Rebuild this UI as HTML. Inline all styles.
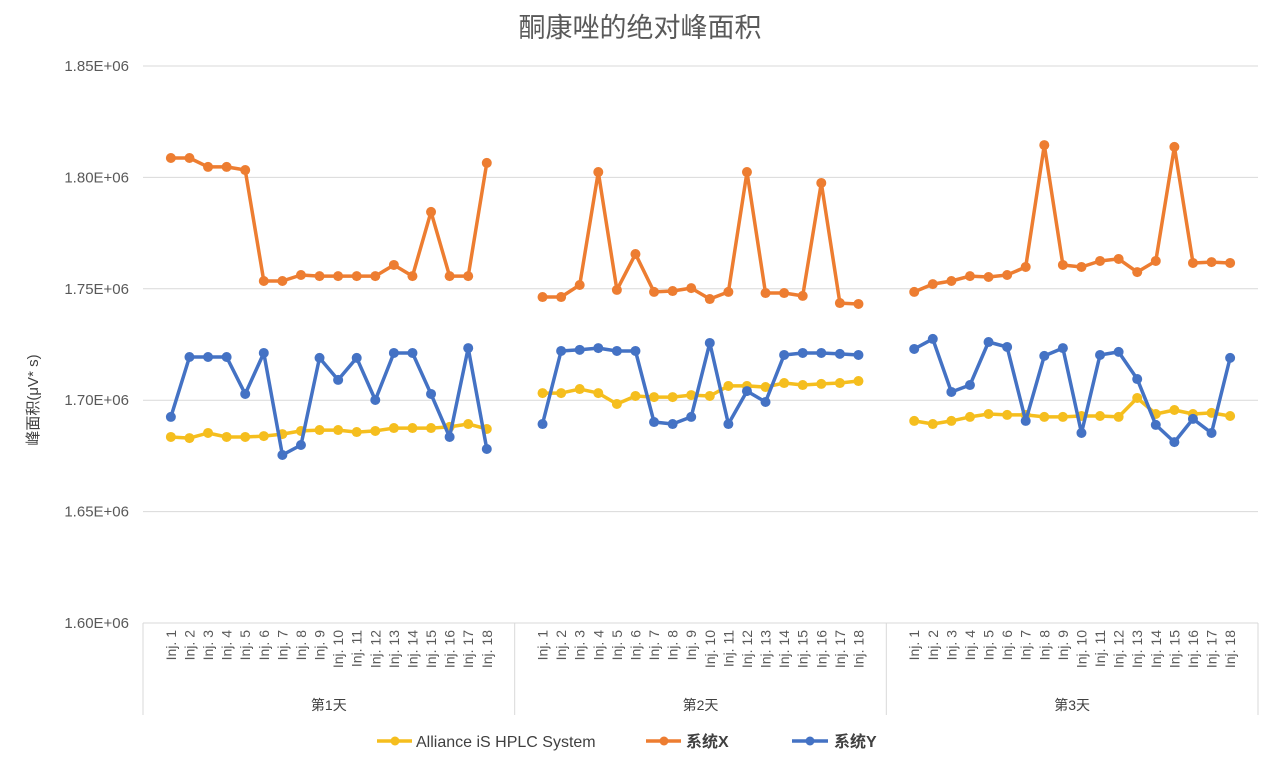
<!DOCTYPE html>
<html><head><meta charset="utf-8"><style>
body{margin:0;background:#fff;font-family:"Liberation Sans","Noto Sans CJK SC",sans-serif;}
svg text{font-family:"Liberation Sans","Noto Sans CJK SC",sans-serif;}
</style></head><body>
<svg id="chart" width="1280" height="778" xmlns="http://www.w3.org/2000/svg">
<text x="640" y="37" text-anchor="middle" font-size="27" fill="#595959">酮康唑的绝对峰面积</text>
<text transform="translate(38,400) rotate(-90)" text-anchor="middle" font-size="15" fill="#404040">峰面积(μV* s)</text>
<g id="grid"></g><g id="xaxis"></g><g id="series"></g>
<g>
<g><line x1="377" y1="741" x2="412" y2="741" stroke="#F5BE1E" stroke-width="3.5"/><circle cx="395" cy="741" r="4.5" fill="#F5BE1E"/><text x="416" y="747" font-size="16" fill="#404040">Alliance iS HPLC System</text></g>
<g><line x1="646" y1="741" x2="681" y2="741" stroke="#ED7D31" stroke-width="3.5"/><circle cx="664" cy="741" r="4.5" fill="#ED7D31"/><text x="686" y="747" font-size="16" font-weight="bold" fill="#404040">系统X</text></g>
<g><line x1="792" y1="741" x2="828" y2="741" stroke="#4472C4" stroke-width="3.5"/><circle cx="810" cy="741" r="4.5" fill="#4472C4"/><text x="834" y="747" font-size="16" font-weight="bold" fill="#404040">系统Y</text></g>
</g>
</svg>
<script>
const days = ["第1天","第2天","第3天"];
const injections = ["Inj. 1","Inj. 2","Inj. 3","Inj. 4","Inj. 5","Inj. 6","Inj. 7","Inj. 8","Inj. 9","Inj. 10","Inj. 11","Inj. 12","Inj. 13","Inj. 14","Inj. 15","Inj. 16","Inj. 17","Inj. 18"];
const yTicks = [1.60,1.65,1.70,1.75,1.80,1.85];
const yTickLabels = ["1.60E+06","1.65E+06","1.70E+06","1.75E+06","1.80E+06","1.85E+06"];
const allianceValues = [
[1.6835,1.6830,1.6853,1.6835,1.6835,1.6839,1.6848,1.6862,1.6866,1.6866,1.6857,1.6862,1.6875,1.6875,1.6875,1.6880,1.6893,1.6871],
[1.7032,1.7032,1.7050,1.7032,1.6983,1.7019,1.7014,1.7014,1.7023,1.7019,1.7064,1.7064,1.7059,1.7077,1.7068,1.7073,1.7077,1.7086],
[1.6907,1.6893,1.6907,1.6925,1.6938,1.6934,1.6934,1.6925,1.6925,1.6929,1.6929,1.6925,1.7010,1.6938,1.6956,1.6938,1.6943,1.6929]];
const systemXValues = [
[1.8087,1.8087,1.8047,1.8047,1.8033,1.7535,1.7535,1.7562,1.7557,1.7557,1.7557,1.7557,1.7607,1.7557,1.7845,1.7557,1.7557,1.8065],
[1.7463,1.7463,1.7517,1.8024,1.7495,1.7656,1.7486,1.7490,1.7503,1.7454,1.7486,1.8024,1.7481,1.7481,1.7468,1.7975,1.7436,1.7432],
[1.7486,1.7521,1.7535,1.7557,1.7553,1.7562,1.7598,1.8145,1.7607,1.7598,1.7625,1.7634,1.7575,1.7625,1.8137,1.7616,1.7620,1.7616]];
const systemYValues = [
[1.6925,1.7194,1.7194,1.7194,1.7028,1.7212,1.6754,1.6799,1.7190,1.7091,1.7190,1.7001,1.7212,1.7212,1.7028,1.6835,1.7234,1.6781],
[1.6893,1.7221,1.7226,1.7234,1.7221,1.7221,1.6902,1.6893,1.6925,1.7257,1.6893,1.7041,1.6992,1.7203,1.7212,1.7212,1.7208,1.7203],
[1.7230,1.7275,1.7037,1.7068,1.7261,1.7239,1.6907,1.7199,1.7234,1.6853,1.7203,1.7217,1.7095,1.6889,1.6812,1.6916,1.6853,1.7190]];

const NS="http://www.w3.org/2000/svg";
const L=143,R=1258,T=66,B=623,yMin=1.60,yMax=1.85;
const slotsPerDay=injections.length+2;
const slotW=(R-L)/(days.length*slotsPerDay);
function yScale(v){return B-(v-yMin)/(yMax-yMin)*(B-T);}
function xScale(d,i){return L+(d*slotsPerDay+i+1.5)*slotW;}
function mk(tag,attrs,parent){const e=document.createElementNS(NS,tag);for(const k in attrs)e.setAttribute(k,attrs[k]);parent.appendChild(e);return e;}
const grid=document.getElementById('grid');
yTicks.forEach((t,k)=>{
  const y=yScale(t);
  if(k>0){const g=mk('line',{x1:L,x2:R,y1:y,y2:y,stroke:'#d9d9d9','stroke-width':1},grid);
  
  }
  const tx=mk('text',{x:129,y:y+5,'text-anchor':'end','font-size':15,fill:'#595959'},grid);
  tx.textContent=yTickLabels[k];
  
  
});
const xa=document.getElementById('xaxis');
const ax=mk('line',{x1:L,x2:R,y1:B,y2:B,stroke:'#d9d9d9','stroke-width':1},xa);


for(let d=0;d<=days.length;d++){
  const x=L+d*slotsPerDay*slotW;
  const s=mk('line',{x1:x,x2:x,y1:B,y2:715,stroke:'#d9d9d9','stroke-width':1},xa);
  
  
}
days.forEach((dn,d)=>{
  injections.forEach((lab,i)=>{
    const x=xScale(d,i);
    const t=mk('text',{transform:`translate(${x+5},630) rotate(-90)`,'text-anchor':'end','font-size':14,fill:'#595959'},xa);
    t.textContent=lab;
    
    
  });
  const cx=L+(d+0.5)*slotsPerDay*slotW;
  const t=mk('text',{x:cx,y:710,'text-anchor':'middle','font-size':14,fill:'#404040'},xa);
  t.textContent=dn;
  
  
});
const ser=document.getElementById('series');
[[allianceValues,'#F5BE1E','alliance'],[systemXValues,'#ED7D31','system-x'],[systemYValues,'#4472C4','system-y']].forEach(([vals,col,nm])=>{
  const g=mk('g',{},ser);
  
  
  vals.forEach((arr,d)=>{
    const pts=arr.map((v,i)=>xScale(d,i).toFixed(1)+','+yScale(v).toFixed(1)).join(' ');
    const pl=mk('polyline',{points:pts,fill:'none',stroke:col,'stroke-width':3.5,'stroke-linejoin':'round'},g);
    
    
    arr.forEach((v,i)=>{
      const c=mk('circle',{cx:xScale(d,i),cy:yScale(v),r:5,fill:col},g);
      
      
    });
  });
});
</script>
</body></html>
